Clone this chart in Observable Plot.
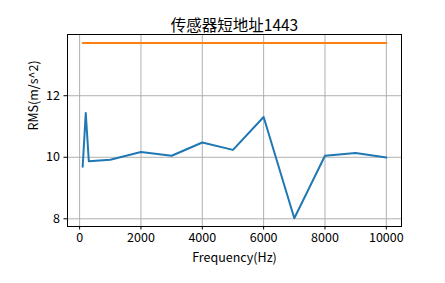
<!DOCTYPE html>
<html><head><meta charset="utf-8">
<script src="https://cdn.jsdelivr.net/npm/d3@7"></script>
<script src="https://cdn.jsdelivr.net/npm/@observablehq/plot@0.6"></script>
<style>body{margin:0;background:#fff}</style>
</head><body><div id="chart"></div>
<script>
const title = "传感器短地址1443";
const xLabel = "Frequency(Hz)";
const yLabel = "RMS(m/s^2)";
const freqs = [100, 200, 300, 1000, 2000, 3000, 4000, 5000, 6000, 7000, 8000, 9000, 10000];
const rms = [9.69, 11.44, 9.87, 9.92, 10.17, 10.05, 10.48, 10.24, 11.31, 8.02, 10.05, 10.14, 9.99];
const limitX = [100, 10000];
const limitY = [13.71, 13.71];
const xTicks = [0, 2000, 4000, 6000, 8000, 10000];
const yTicks = [8, 10, 12];

const series = freqs.map((f, i) => ({f, v: rms[i]}));
const limit = limitX.map((f, i) => ({f, v: limitY[i]}));
const font = "'Noto Sans CJK SC', sans-serif";

const chart = Plot.plot({
  width: 445, height: 283,
  marginLeft: 67, marginRight: 44, marginTop: 34, marginBottom: 57,
  style: {fontFamily: font, fontSize: "12.5px", color: "#000", background: "#fff"},
  x: {domain: [-395, 10495], label: null},
  y: {domain: [7.75, 13.99], label: null},
  marks: [
    Plot.gridX(xTicks, {stroke: "#b0b0b0", strokeOpacity: 1, strokeWidth: 1}),
    Plot.gridY(yTicks, {stroke: "#b0b0b0", strokeOpacity: 1, strokeWidth: 1}),
    Plot.line(limit, {x: "f", y: "v", stroke: "#ff7f0e", strokeWidth: 2}),
    Plot.line(series, {x: "f", y: "v", stroke: "#1f77b4", strokeWidth: 2}),
    Plot.frame({stroke: "#000", strokeWidth: 1}),
    Plot.axisX(xTicks, {tickSize: 3.5, tickPadding: 3, tickFormat: d => String(d), label: null, fontSize: 12.5}),
    Plot.axisY(yTicks, {tickSize: 3.5, tickPadding: 4, tickFormat: d => String(d), label: null, fontSize: 12.5}),
    Plot.text([title], {frameAnchor: "top", dy: -15, fontSize: 15.5, fill: "#000"}),
    Plot.text([xLabel], {frameAnchor: "bottom", dy: 35, fontSize: 12.5, fill: "#000"}),
    Plot.text([yLabel], {frameAnchor: "left", dx: -34, rotate: -90, fontSize: 12.5, fill: "#000"})
  ]
});
document.getElementById("chart").appendChild(chart);
</script></body></html>
